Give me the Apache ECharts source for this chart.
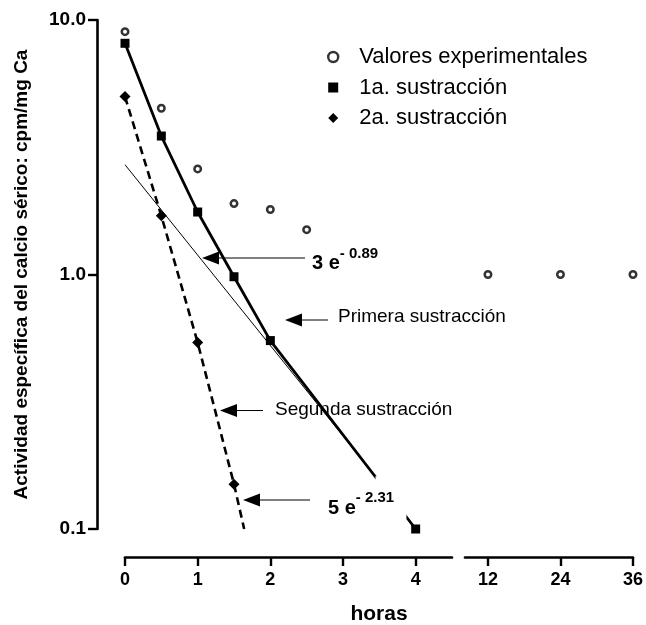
<!DOCTYPE html>
<html>
<head>
<meta charset="utf-8">
<script src="https://cdn.jsdelivr.net/npm/echarts@6/dist/echarts.min.js"></script>
<style>html,body{margin:0;padding:0;background:#fff}#c{width:646px;height:625px}</style>
</head>
<body>
<div id="c"></div>
<script>
// ---------- data ----------
const xTicksA = [0, 1, 2, 3, 4];
const xTicksB = [12, 24, 36];
const yTickLabels = ['0.1', '1.0', '10.0'];

const horasExp = [0, 0.5, 1, 1.5, 2, 2.5, 12, 24, 36];
const valoresExp = [9.0, 4.5, 2.6, 1.9, 1.8, 1.5, 1.0, 1.0, 1.0];

const horasSust1 = [0, 0.5, 1, 1.5, 2, 4];
const valoresSust1 = [8.1, 3.5, 1.76, 0.98, 0.55, 0.1];

const horasSust2 = [0, 0.5, 1, 1.5];
const valoresSust2 = [5.0, 1.7, 0.54, 0.15];
const finSust2 = [1.64, 0.1];          // end of dashed fit

const ajuste1 = [[0, 2.7], [3.44, 0.162]];   // thin line 3 e^-0.89t
const corteLinea = [[3.44, 0.162], [3.88, 0.109]]; // part hidden by label

// annotations (data coordinates: tail, tip)
const anotaciones = [
  { desde: [2.477, 1.161], hasta: [1.06, 1.161], texto: '3 e', sup: '- 0.89' },
  { desde: [2.793, 0.6625], hasta: [2.202, 0.6625], texto: 'Primera sustracción' },
  { desde: [1.899, 0.2921], hasta: [1.307, 0.2921], texto: 'Segunda sustracción' },
  { desde: [2.546, 0.130], hasta: [1.624, 0.130], texto: '5 e', sup: '- 2.31' }
];
const anotOffsets = [
  { dx: 7, dy: 5, supDy: -4.5 },
  { dx: 10, dy: -3 },
  { dx: 12, dy: -0.5 },
  { dx: 18, dy: 8, supDy: -2 }
];

// ---------- chart ----------
const FONT = '"Liberation Sans", Arial, Helvetica, sans-serif';
const chart = echarts.init(document.getElementById('c'), null, { renderer: 'canvas' });

const expA = [], expB = [];
horasExp.forEach((h, i) => (h <= 4.5 ? expA : expB).push([h, valoresExp[i]]));
const sust1 = horasSust1.map((h, i) => [h, valoresSust1[i]]);
const sust2 = horasSust2.map((h, i) => [h, valoresSust2[i]]);
sust2.push({ value: finSust2, symbol: 'none' });

const axisLineStyle = { color: '#000', width: 2.6 };
const tickStyle = { color: '#000', width: 2.4 };
const xLabel = { color: '#000', fontSize: 18, fontWeight: 'bold', fontFamily: FONT, margin: 14 };

const yAxisBase = {
  type: 'log', logBase: 10, min: 0.1, max: 10,
  splitLine: { show: false }, minorTick: { show: false }
};

const circleStyle = { color: '#fff', borderColor: '#000', borderWidth: 2.5 };

chart.setOption({
  animation: false,
  backgroundColor: '#fff',
  grid: [
    { left: 125, top: 20, width: 327, height: 509 },
    { left: 465, top: 20, width: 169, height: 509 }
  ],
  xAxis: [
    {
      gridIndex: 0, type: 'value', min: 0, max: 4.5, offset: 28,
      axisLine: { show: true, onZero: false, lineStyle: axisLineStyle },
      axisTick: { show: true, length: 9, lineStyle: tickStyle, customValues: xTicksA },
      axisLabel: Object.assign({ customValues: xTicksA, formatter: v => String(v) }, xLabel),
      splitLine: { show: false }
    },
    {
      gridIndex: 1, type: 'value', min: 8.2, max: 36, offset: 28,
      axisLine: { show: true, onZero: false, lineStyle: axisLineStyle },
      axisTick: { show: true, length: 9, lineStyle: tickStyle, customValues: xTicksB },
      axisLabel: Object.assign({ customValues: xTicksB, formatter: v => String(v) }, xLabel),
      splitLine: { show: false }
    }
  ],
  yAxis: [
    Object.assign({}, yAxisBase, {
      gridIndex: 0, offset: 28,
      axisLine: { show: true, onZero: false, lineStyle: axisLineStyle },
      axisTick: { show: true, length: 9, lineStyle: tickStyle },
      axisLabel: {
        color: '#000', fontSize: 19, fontWeight: 'bold', fontFamily: FONT, margin: 11,
        formatter: v => {
          const k = Math.round(Math.log10(v)) + 1;
          return yTickLabels[k] !== undefined ? yTickLabels[k] : v.toFixed(1);
        }
      },
      name: 'Actividad específica del calcio sérico: cpm/mg Ca',
      nameLocation: 'middle', nameGap: 66, nameMoveOverlap: false,
      nameTextStyle: { color: '#000', fontSize: 19, fontWeight: 'bold', fontFamily: FONT }
    }),
    Object.assign({}, yAxisBase, { gridIndex: 1, show: false, axisLine: { onZero: false } })
  ],
  legend: {
    orient: 'vertical', left: 327, top: 46, padding: 0,
    itemWidth: 10, itemHeight: 10, itemGap: 8.5, selectedMode: false,
    textStyle: { color: '#000', fontSize: 22, fontFamily: FONT, lineHeight: 22, padding: [0, 0, 0, 16] },
    data: [
      { name: 'Valores experimentales', icon: 'circle', itemStyle: { color: '#fff', borderColor: '#000', borderWidth: 2.4 } },
      { name: '1a. sustracción', icon: 'rect', itemStyle: { color: '#000', borderWidth: 0 } },
      { name: '2a. sustracción', icon: 'diamond', itemStyle: { color: '#000', borderWidth: 0 } }
    ]
  },
  series: [
    {
      name: 'ajuste', type: 'line', xAxisIndex: 0, yAxisIndex: 0, data: ajuste1,
      symbol: 'none', lineStyle: { color: '#000', width: 1 }, z: 2
    },
    {
      name: '1a. sustracción', type: 'line', xAxisIndex: 0, yAxisIndex: 0, data: sust1,
      symbol: 'rect', symbolSize: 9, itemStyle: { color: '#000' },
      lineStyle: { color: '#000', width: 2.8 }, z: 3
    },
    {
      name: '2a. sustracción', type: 'line', xAxisIndex: 0, yAxisIndex: 0, data: sust2,
      symbol: 'diamond', symbolSize: 11, itemStyle: { color: '#000' },
      lineStyle: { color: '#000', width: 2.6, type: [8, 5] }, z: 3
    },
    {
      name: 'Valores experimentales', type: 'scatter', xAxisIndex: 0, yAxisIndex: 0, data: expA,
      symbol: 'circle', symbolSize: 6.5, itemStyle: circleStyle, z: 4
    },
    {
      name: 'Valores experimentales', type: 'scatter', xAxisIndex: 1, yAxisIndex: 1, data: expB,
      symbol: 'circle', symbolSize: 6.5, itemStyle: circleStyle, z: 4
    }
  ]
});

// ---------- annotations ----------
const ctx = document.createElement('canvas').getContext('2d');
function textW(str, size, weight) { ctx.font = weight + ' ' + size + 'px ' + FONT; return ctx.measureText(str).width; }
const toPx = p => chart.convertToPixel({ xAxisIndex: 0, yAxisIndex: 0 }, p);

const graphics = [];
// white cover that interrupts the thick line behind the "5 e" label
const c1 = toPx(corteLinea[0]), c2 = toPx(corteLinea[1]);
graphics.push({
  type: 'rect', z: 10, silent: true,
  shape: { x: Math.min(c1[0], c2[0]) + 0.5, y: Math.min(c1[1], c2[1]) + 0.5, width: Math.abs(c2[0] - c1[0]) - 1, height: Math.abs(c2[1] - c1[1]) - 1 },
  style: { fill: '#fff' }
});

anotaciones.forEach((a, i) => {
  const o = anotOffsets[i];
  const tail = toPx(a.desde), tip = toPx(a.hasta);
  const y = tip[1];
  const head = 17;
  graphics.push({ type: 'line', z: 11, silent: true,
    shape: { x1: tail[0], y1: y, x2: tip[0] + head - 2, y2: y }, style: { stroke: '#000', lineWidth: 1 } });
  graphics.push({ type: 'polygon', z: 11, silent: true,
    shape: { points: [[tip[0], y], [tip[0] + head, y - 6.5], [tip[0] + head, y + 6.5]] }, style: { fill: '#000' } });
  const bold = !!a.sup;
  const size = bold ? 20 : 19;
  const tx = tail[0] + o.dx;
  graphics.push({ type: 'text', z: bold ? 12 : 1, silent: true, x: tx, y: y + o.dy,
    style: { text: a.texto, fontSize: size, fontWeight: bold ? 'bold' : 'normal', fontFamily: FONT,
      fill: '#000', align: 'left', verticalAlign: 'middle' } });
  if (a.sup) {
    graphics.push({ type: 'text', z: 12, silent: true, x: tx + textW(a.texto, size, 'bold'), y: y + o.supDy,
      style: { text: a.sup, fontSize: 15, fontWeight: 'bold', fontFamily: FONT,
        fill: '#000', align: 'left', verticalAlign: 'middle' } });
  }
});

// x-axis title centered under both axis segments
const xa = toPx([0, 0.1])[0];
const xb = chart.convertToPixel({ xAxisIndex: 1, yAxisIndex: 1 }, [36, 0.1])[0];
graphics.push({ type: 'text', silent: true, x: (xa + xb) / 2, y: 614,
  style: { text: 'horas', fontSize: 21, fontWeight: 'bold', fontFamily: FONT, fill: '#000',
    align: 'center', verticalAlign: 'middle' } });

chart.setOption({ graphic: graphics });
</script>
</body>
</html>
